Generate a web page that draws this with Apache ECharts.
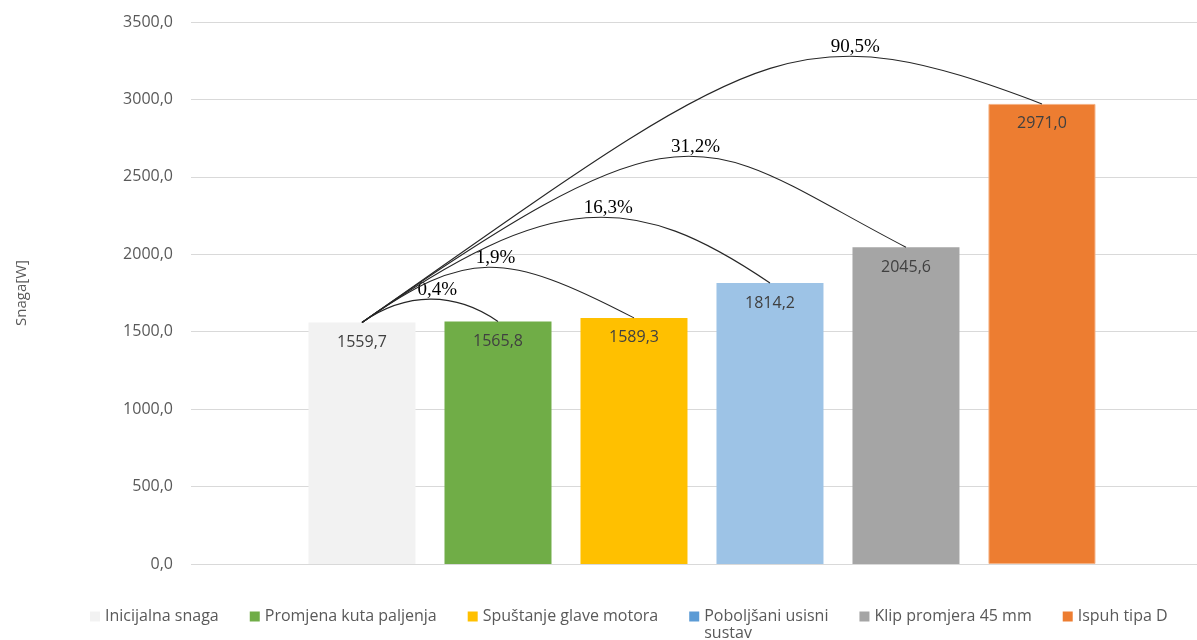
<!DOCTYPE html>
<html>
<head>
<meta charset="utf-8">
<script src="https://cdn.jsdelivr.net/npm/echarts@6/dist/echarts.min.js"></script>
<style>
html,body{margin:0;padding:0;background:#fff;}
#chart{width:1197px;height:640px;}
</style>
</head>
<body>
<div id="chart"></div>
<script>
// ---- data ----
const categories = ['Inicijalna snaga', 'Promjena kuta paljenja', 'Spuštanje glave motora', 'Poboljšani usisni sustav', 'Klip promjera 45 mm', 'Ispuh tipa D'];
const values = [1559.7, 1565.8, 1589.3, 1814.2, 2045.6, 2971.0];
const pctLabels = ['0,4%', '1,9%', '16,3%', '31,2%', '90,5%'];
const yTicks = [0, 500, 1000, 1500, 2000, 2500, 3000, 3500];

// ---- styles ----
const barColors = ['#F2F2F2', '#70AD47', '#FFC000', '#9DC3E6', '#A5A5A5', '#ED7D31'];
const legendColors = ['#F2F2F2', '#70AD47', '#FFC000', '#5B9BD5', '#A5A5A5', '#ED7D31'];
// arc shape: start-control fraction a, end-control fraction b, end slope s
const arcShapes = [
  {a: 0.32, b: 0.32, s: 0.7},
  {a: 0.385, b: 0.48, s: 0.52},
  {a: 0.467, b: 0.336, s: 0.68},
  {a: 0.62, b: 0.378, s: 0.52},
  {a: 0.586, b: 0.37, s: 0.38}
];
const sans = "'Open Sans', 'Noto Sans', sans-serif";
const fmt = v => Number(v).toFixed(1).replace('.', ',');

const chart = echarts.init(document.getElementById('chart'), null, {renderer: 'canvas'});

const barSeries = categories.map((name, i) => ({
  type: 'bar',
  name: name,
  data: [[i + 1, values[i]]],
  barWidth: 107,
  barGap: '-100%',
  itemStyle: {color: barColors[i], borderColor: i === 5 ? '#F4B183' : barColors[i], borderWidth: i === 5 ? 1 : 0},
  label: {
    show: true,
    position: 'insideTop',
    distance: 12,
    formatter: p => fmt(p.value[1]),
    color: '#404040',
    fontSize: 16,
    fontFamily: sans
  },
  z: 2
}));

const arcSeries = {
  type: 'custom',
  name: 'arcs',
  coordinateSystem: 'cartesian2d',
  clip: false,
  silent: true,
  z: 5,
  data: values.slice(1).map((v, k) => [k + 2, v]),
  renderItem: function (params, api) {
    const k = params.dataIndex;
    const p0 = api.coord([1, values[0]]);
    const p3 = api.coord([api.value(0), api.value(1)]);
    const sh = arcShapes[k];
    const span = p3[0] - p0[0];
    const c1 = [p0[0] + sh.a * span, p0[1] - 0.7 * sh.a * span];
    const c2 = [p3[0] - sh.b * span, p3[1] - sh.s * sh.b * span];
    let best = [0, Infinity];
    for (let t = 0; t <= 1; t += 0.005) {
      const u = 1 - t;
      const x = u*u*u*p0[0] + 3*t*u*u*c1[0] + 3*t*t*u*c2[0] + t*t*t*p3[0];
      const y = u*u*u*p0[1] + 3*t*u*u*c1[1] + 3*t*t*u*c2[1] + t*t*t*p3[1];
      if (y < best[1]) best = [x, y];
    }
    return {
      type: 'group',
      children: [
        {
          type: 'bezierCurve',
          shape: {x1: p0[0], y1: p0[1], x2: p3[0], y2: p3[1], cpx1: c1[0], cpy1: c1[1], cpx2: c2[0], cpy2: c2[1]},
          style: {stroke: '#262626', lineWidth: 1.1, fill: 'none'}
        },
        {
          type: 'text',
          x: best[0] + 6,
          y: best[1] - 9,
          style: {
            text: pctLabels[k],
            fill: '#000',
            font: "19px 'Liberation Serif', 'DejaVu Serif', serif",
            align: 'center',
            verticalAlign: 'middle'
          }
        }
      ]
    };
  }
};

const option = {
  backgroundColor: '#fff',
  animation: false,
  grid: {left: 191, right: 0, top: 22, bottom: 76},
  xAxis: {
    type: 'value',
    min: -0.2574,
    max: 7.14,
    show: false,
    splitLine: {show: false}
  },
  yAxis: {
    type: 'value',
    min: yTicks[0],
    max: yTicks[yTicks.length - 1],
    interval: yTicks[1] - yTicks[0],
    name: 'Snaga[W]',
    nameLocation: 'middle',
    nameGap: 162,
    nameTextStyle: {color: '#595959', fontSize: 15, fontFamily: sans},
    axisLine: {show: false},
    axisTick: {show: false},
    axisLabel: {color: '#595959', fontSize: 16, fontFamily: sans, margin: 18, formatter: v => fmt(v)},
    splitLine: {lineStyle: {color: '#D9D9D9', width: 1}}
  },
  legend: {
    top: 586,
    left: 85,
    icon: 'rect',
    itemWidth: 10,
    itemHeight: 10,
    itemGap: 31,
    data: categories.map((name, i) => ({name: name, itemStyle: {color: legendColors[i], borderWidth: 0}})),
    formatter: name => name === 'Poboljšani usisni sustav' ? '\nPoboljšani usisni\nsustav' : name,
    textStyle: {color: '#595959', fontSize: 16, fontFamily: sans, lineHeight: 17}
  },
  series: barSeries.concat([arcSeries])
};

chart.setOption(option);
</script>
</body>
</html>
